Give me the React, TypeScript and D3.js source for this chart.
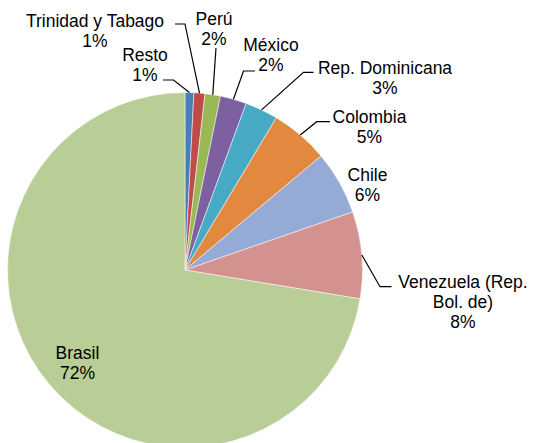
import React from "react";
import * as d3 from "d3";

const categories = [
  "Resto",
  "Trinidad y Tabago",
  "Perú",
  "México",
  "Rep. Dominicana",
  "Colombia",
  "Chile",
  "Venezuela (Rep. Bol. de)",
  "Brasil",
];
const values = [0.8, 1.0, 1.4, 2.4, 3.0, 5.3, 5.8, 7.9, 72.4];
const percentLabels = ["1%", "1%", "2%", "2%", "3%", "5%", "6%", "8%", "72%"];
const labelLines = [
  ["Resto"],
  ["Trinidad y Tabago"],
  ["Perú"],
  ["México"],
  ["Rep. Dominicana"],
  ["Colombia"],
  ["Chile"],
  ["Venezuela (Rep.", "Bol. de)"],
  ["Brasil"],
];
const colors = [
  "#4A7EBB",
  "#BE4B48",
  "#98B954",
  "#7D60A0",
  "#46AAC5",
  "#E2883F",
  "#95AAD5",
  "#D39190",
  "#B9CD96",
];

// layout: label center x, first baseline y, and leader elbow/end (null = no leader)
const layout: { x: number; y: number; leader: null | [number, number][] }[] = [
  { x: 145, y: 61, leader: [[173.5, 80], [163, 80]] },
  { x: 95, y: 26.5, leader: [[185, 24], [175, 24]] },
  { x: 214, y: 25, leader: [[216, 48]] },
  { x: 271, y: 51, leader: [[243.5, 71], [255, 71]] },
  { x: 385, y: 74.3, leader: [[303.5, 72.3], [313.5, 72.3]] },
  { x: 369.5, y: 123.3, leader: [[316.7, 121.7], [330, 121.7]] },
  { x: 367.5, y: 181, leader: null },
  { x: 463, y: 288.3, leader: [[380, 286.7], [391.5, 286.7]] },
  { x: 77.5, y: 359.3, leader: null },
];

const W = 533;
const H = 443;
const cx = 185;
const cy = 270;
const R = 177.5;
const FS = 17.5;
const LH = 20;

export default function App() {
  const pie = d3
    .pie<number>()
    .sort(null)
    .value((d) => d)
    .startAngle(0)
    .endAngle(2 * Math.PI);
  const arcs = pie(values);
  const arc = d3.arc<d3.PieArcDatum<number>>().innerRadius(0).outerRadius(R);
  const line = d3.line();

  return (
    <div style={{ position: "absolute", left: 0, top: 0 }}>
      <svg width={W} height={H} style={{ display: "block", background: "#fff" }}>
        <g transform={`translate(${cx},${cy})`}>
          {arcs.map((a, i) => (
            <path
              key={categories[i]}
              d={arc(a) || ""}
              fill={colors[i]}
              stroke="#ffffff"
              strokeWidth={0.5}
            />
          ))}
        </g>
        {arcs.map((a, i) => {
          const L = layout[i];
          if (!L.leader) return null;
          const mid = (a.startAngle + a.endAngle) / 2;
          const start: [number, number] = [
            cx + R * Math.sin(mid),
            cy - R * Math.cos(mid),
          ];
          const pts: [number, number][] = [start, ...L.leader];
          return (
            <path
              key={"l" + i}
              d={line(pts) || ""}
              fill="none"
              stroke="#000"
              strokeWidth={1.2}
            />
          );
        })}
        {categories.map((c, i) => {
          const L = layout[i];
          const lines = [...labelLines[i], percentLabels[i]];
          return (
            <text
              key={"t" + c}
              x={L.x}
              y={L.y}
              textAnchor="middle"
              fontFamily="'Liberation Sans', Arial, sans-serif"
              fontSize={FS}
              fill="#000"
            >
              {lines.map((s, k) => (
                <tspan key={k} x={L.x} y={L.y + k * LH}>
                  {s}
                </tspan>
              ))}
            </text>
          );
        })}
      </svg>
    </div>
  );
}
